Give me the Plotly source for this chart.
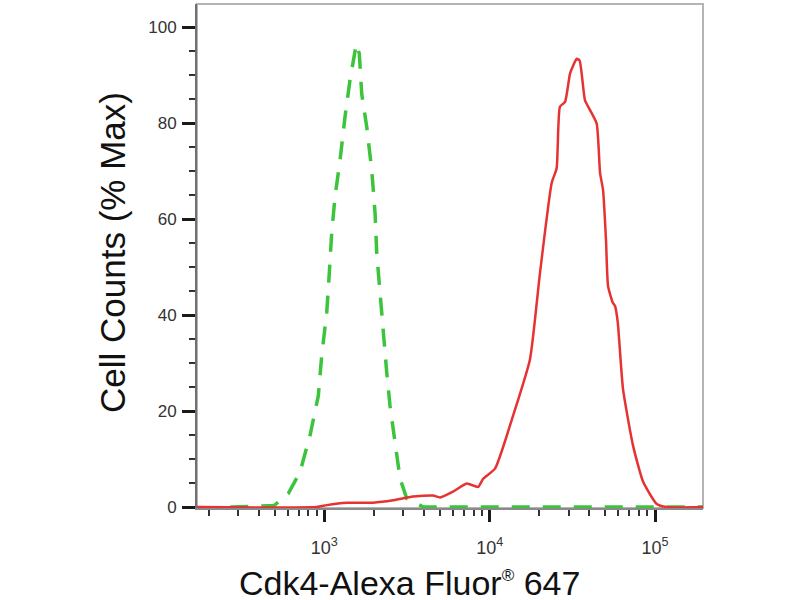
import plotly.graph_objects as go

# Isotype control (green dashed)
iso_x = [270, 497, 605, 713, 819, 920, 964, 1034, 1072, 1108, 1161, 1245, 1334, 1429,
         1555, 1570, 1628, 1683, 1805, 1935, 2027, 2075, 2173, 2275, 2385, 2496, 2677,
         2871, 3150, 3970, 195000]
iso_y = [0, 0.3, 2.8, 7.3, 14.9, 23.2, 31.5, 40.5, 48.8, 57.1, 64.7, 72.3, 81.3, 88.9,
         96.2, 96.5, 94.4, 86.1, 79.2, 70.2, 61.2, 52.9, 44.6, 35.6, 28.0, 21.1, 12.8,
         5.9, 1.8, 0, 0]

# Cdk4 stained sample (red solid)
cdk_x = [170, 900, 1034, 1366, 1970, 2603, 3437, 4540, 5010, 6000, 7260, 8510, 9130,
         10770, 13840, 17530, 20150, 23700, 25400, 26600, 28560, 30600, 32000, 33600,
         35000, 37700, 40000, 44350, 46500, 48500, 50500, 52000, 55500, 57300, 59500,
         64000, 73600, 84600, 102000, 117500, 195000]
cdk_y = [0, 0, 0.4, 0.9, 0.9, 1.4, 2.2, 2.4, 2.0, 3.2, 4.9, 4.2, 5.9,
         8.0, 19.0, 30.8, 48.8, 67.5, 70.6, 83.4, 84.4, 90.3, 92.0, 93.4,
         93.0, 84.7, 83.0, 79.9, 69.6, 66.0, 55.7, 46.0, 42.6, 41.9, 38.5,
         24.6, 12.8, 5.3, 0.7, 0, 0]

x_major = [1e3, 1e4, 1e5]
x_major_text = ["10<sup>3</sup>", "10<sup>4</sup>", "10<sup>5</sup>"]
x_minor = [k * 10 ** e for e in (2, 3, 4) for k in range(2, 10)]
y_major = [0, 20, 40, 60, 80, 100]

FONT = "Liberation Sans, Arial, sans-serif"

fig = go.Figure()
fig.add_trace(go.Scatter(x=iso_x, y=iso_y, mode="lines",
                         line=dict(color="#3cc43c", width=3.5, dash="18px,13px"),
                         showlegend=False))
fig.add_trace(go.Scatter(x=cdk_x, y=cdk_y, mode="lines",
                         line=dict(color="#e63232", width=2.5, shape="spline", smoothing=0.5),
                         showlegend=False))

fig.update_layout(
    width=800, height=600,
    margin=dict(l=197, r=97, t=4, b=92),
    paper_bgcolor="white", plot_bgcolor="white",
    font=dict(family=FONT, color="#333333"),
    xaxis=dict(
        type="log", range=[2.23, 5.29],
        tickmode="array", tickvals=x_major, ticktext=x_major_text,
        ticks="outside", ticklen=12, tickwidth=3, tickcolor="#1a1a1a",
        tickfont=dict(size=18, color="#333333"), ticklabelstandoff=10,
        showgrid=False, zeroline=False,
        showline=True, linecolor="#8a8a8a", linewidth=2,
        minor=dict(tickmode="array", tickvals=x_minor, ticks="outside",
                   ticklen=6, tickwidth=1.5, tickcolor="#333333", showgrid=False),
    ),
    yaxis=dict(
        range=[-0.2, 104.8],
        tickmode="array", tickvals=y_major,
        ticks="outside", ticklen=13, tickwidth=3, tickcolor="#1a1a1a",
        tickfont=dict(size=17, color="#333333"), ticklabelstandoff=2,
        showgrid=False, zeroline=False,
        showline=True, linecolor="#707070", linewidth=2,
        minor=dict(dtick=5, ticks="outside", ticklen=6, tickwidth=1.5,
                   tickcolor="#333333", showgrid=False),
    ),
    shapes=[dict(type="rect", xref="x domain", yref="y domain",
                 x0=0, x1=1, y0=0, y1=1,
                 line=dict(color="#b4b4b4", width=2), layer="below")],
    annotations=[
        dict(text="Cell Counts (% Max)", xref="paper", yref="paper",
             x=-0.166, y=0.506, textangle=-90, showarrow=False,
             xanchor="center", yanchor="middle",
             font=dict(size=35, color="#111111", family=FONT)),
        dict(text="Cdk4-Alexa Fluor<sup><span style='font-size:17px'>®</span></sup> 647",
             xref="paper", yref="paper",
             x=(409 - 197) / 506, y=-0.148, showarrow=False,
             xanchor="center", yanchor="middle",
             font=dict(size=34, color="#111111", family=FONT)),
    ],
)

fig.write_html("out.html", config={"displayModeBar": False},
               post_script="document.body.style.margin='0';")
